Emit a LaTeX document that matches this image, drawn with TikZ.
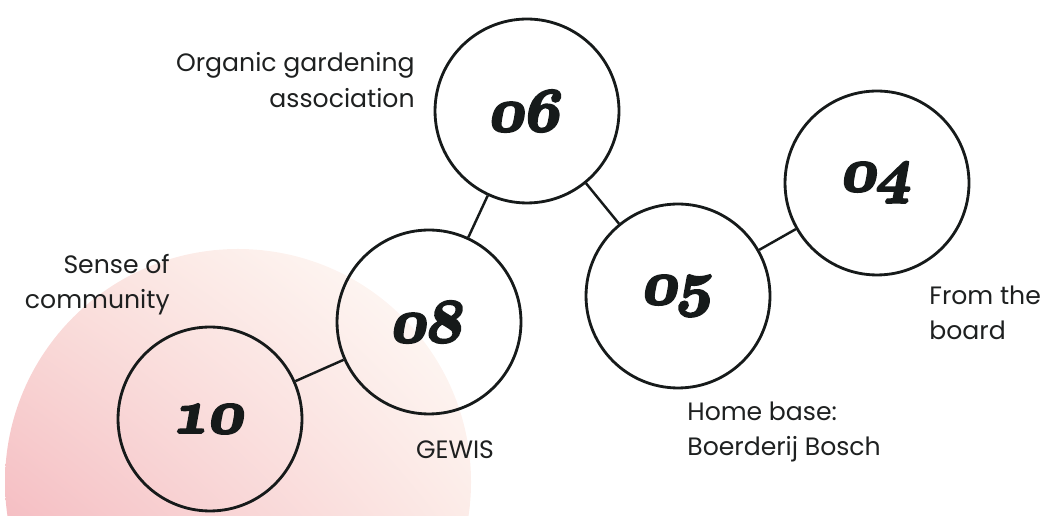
\documentclass[tikz,border=0pt]{standalone}
\usepackage{fontspec}
\setmainfont{Poppins}
\usepackage{tikz}
\usetikzlibrary{shadings}
\definecolor{inkBlack}{HTML}{161A1A}
\definecolor{textGray}{HTML}{1E2020}
\definecolor{blushPink}{HTML}{F5BEC3}
\definecolor{blushMid}{HTML}{FAE0DC}
\definecolor{creamWhite}{HTML}{FFFEFA}
% heavy old-style figures for the ring numbers (glyphs filled and stroked)
\newcommand{\ringnum}[1]{{\usefont{OML}{cmm}{b}{it}\fontsize{24.88}{28}\selectfont
  \special{pdf:literal direct 2 Tr 1.1 w}#1\special{pdf:literal direct 0 Tr}}}

\begin{document}
\begin{tikzpicture}[x=0.02cm, y=0.02cm,
  ring/.style={circle, draw=inkBlack, line width=1.6pt,
               minimum size=3.68cm, inner sep=0pt},
  num/.style={text=inkBlack, scale=1.4, xslant=0.18, inner sep=0pt},
  link/.style={draw=inkBlack, line width=1.4pt},
  lab/.style={font=\fontsize{14.3}{20}\selectfont, text=textGray, inner sep=0pt}
]
\useasboundingbox (0,0) rectangle (1053,516);

% soft pink glow in the lower left
\begin{scope}
  \clip (238,34) circle (233);
  \shade[lower left=blushPink, upper right=creamWhite,
         lower right=blushMid!60!creamWhite, upper left=blushMid]
    (0,0) rectangle (472,268);
\end{scope}

\node[ring, label={[num]center:\ringnum{10}}] (n10) at (210,97)  {};
\node[ring, label={[num]center:\ringnum{08}}] (n08) at (429,194) {};
\node[ring, label={[num]center:\ringnum{06}}] (n06) at (527,405) {};
\node[ring, label={[num]center:\ringnum{05}}] (n05) at (678,220) {};
\node[ring, label={[num]center:\ringnum{04}}] (n04) at (877,333) {};

\draw[link] (n10) -- (n08);
\draw[link] (n08) -- (n06);
\draw[link] (n06) -- (n05);
\draw[link] (n05) -- (n04);

\node[lab, align=right, anchor=east] (sense) at (170,231) {Sense of\\community};
\node[lab, align=right, anchor=east] (organic) at (415,436) {Organic gardening\\association};
\node[lab] (gewis) at (455,66) {GEWIS};
\node[lab, align=left, anchor=west] (board) at (929,203) {From the\\board};
\node[lab, align=left, anchor=west] (home) at (687,84) {Home base:\\Boerderij Bosch};
\end{tikzpicture}
\end{document}
